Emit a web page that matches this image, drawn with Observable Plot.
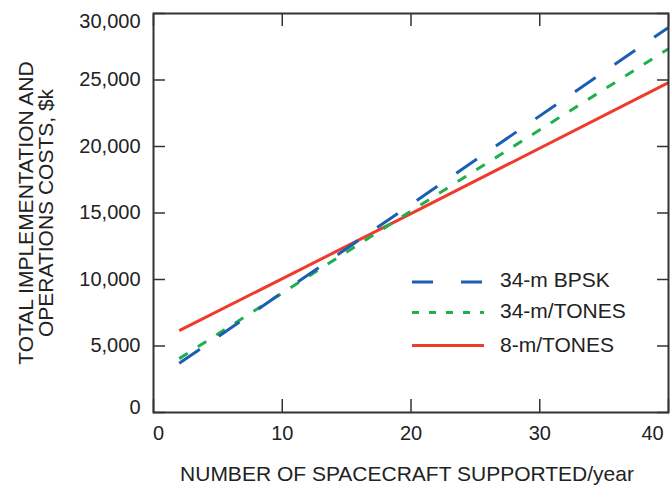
<!DOCTYPE html>
<html><head><meta charset="utf-8">
<script src="https://cdn.jsdelivr.net/npm/d3@7"></script>
<script src="https://cdn.jsdelivr.net/npm/@observablehq/plot@0.6"></script>
<style>
html,body{margin:0;padding:0;background:#fff;}
#chart{width:670px;height:487px;overflow:hidden;}
</style></head><body><div id="chart"></div>
<script>
// ---- data ----
const spacecraft = [2, 20, 40];
const bpsk34  = [3700, 15650, 28950];
const tones34 = [4050, 15150, 27350];
const tones8  = [6150, 14950, 24800];
const seriesNames = ["34-m BPSK", "34-m/TONES", "8-m/TONES"];
const xTicks = [0, 10, 20, 30, 40];
const yTicks = [0, 5000, 10000, 15000, 20000, 25000, 30000];
const xLabel = "NUMBER OF SPACECRAFT SUPPORTED/year";
const yLabel = "TOTAL IMPLEMENTATION AND\nOPERATIONS COSTS, $k";

// ---- styles ----
const seriesColors = ["#1a5fb4", "#1fb04c", "#ee3b2b"];
const plotDash = ["25,23", "10,12", null];
const legendDash = ["21,28", "7,10", null];
const ink = "#333";
const font = "'Liberation Sans', Arial, Helvetica, sans-serif";

const seriesValues = [bpsk34, tones34, tones8];
const rows = seriesNames.map((name, s) =>
  spacecraft.map((x, i) => ({name, x, y: seriesValues[s][i]})));

const lineMarks = [2, 1, 0].map(s => Plot.line(rows[s], {
  x: "x", y: "y", stroke: seriesColors[s], strokeWidth: 3,
  strokeDasharray: plotDash[s] ?? undefined, strokeLinecap: "butt"
}));

const firstX = xTicks[0], lastX = xTicks[xTicks.length - 1];
const firstY = yTicks[0], lastY = yTicks[yTicks.length - 1];
const fmt = d3.format(",");
const yLab = (ticks, dy) => Plot.axisY({ticks, anchor: "left", tickSize: 0, tickPadding: 13, tickFormat: fmt, fontSize: 20, label: null, dy});
const xLab = (ticks, dx) => Plot.axisX({ticks, anchor: "bottom", tickSize: 0, tickPadding: 13, fontSize: 20, label: null, dx});

const chart = Plot.plot({
  width: 670, height: 487,
  marginLeft: 153, marginRight: 2, marginTop: 13, marginBottom: 75,
  style: {fontFamily: font, fontSize: "20px", color: "#222", background: "#fff"},
  x: {domain: [0, 40]},
  y: {domain: [0, 30000]},
  marks: [
    yLab(yTicks.filter(t => t !== firstY && t !== lastY), 0),
    yLab([firstY], -5),
    yLab([lastY], 8),
    Plot.axisY({ticks: yTicks, anchor: "left", tickSize: -12, tickFormat: () => "", label: null, stroke: ink, strokeWidth: 1.5}),
    Plot.axisY({ticks: yTicks, anchor: "right", tickSize: -12, tickFormat: () => "", label: null, stroke: ink, strokeWidth: 1.5}),
    xLab(xTicks.filter(t => t !== firstX && t !== lastX), 0),
    xLab([firstX], 5),
    xLab([lastX], -16),
    Plot.axisX({ticks: xTicks, anchor: "bottom", tickSize: -13, tickFormat: () => "", label: null, stroke: ink, strokeWidth: 1.5}),
    Plot.axisX({ticks: xTicks, anchor: "top", tickSize: -12, tickFormat: () => "", label: null, stroke: ink, strokeWidth: 1.5}),
    ...lineMarks,
    Plot.frame({stroke: ink, strokeWidth: 2}),
    Plot.text([xLabel], {text: d => d, frameAnchor: "bottom", textAnchor: "middle", lineAnchor: "middle", dy: 62, dx: -4, fontSize: 21, fill: "#222"}),
    Plot.text([yLabel], {text: d => d, frameAnchor: "left", textAnchor: "middle", lineAnchor: "middle", rotate: -90, dx: -117, fontSize: 21, lineHeight: 0.98, fill: "#222"})
  ]
});
document.getElementById("chart").appendChild(chart);

// ---- legend (inside the plot area) ----
const legendLayout = {x1: 412, x2: 484, textX: 500, lineY: [282, 312.5, 345.5], baseY: [286.5, 318, 351.5]};
const svg = d3.select(chart);
const lg = svg.append("g").attr("class", "legend");
seriesNames.forEach((name, s) => {
  lg.append("line")
    .attr("x1", legendLayout.x1).attr("x2", legendLayout.x2)
    .attr("y1", legendLayout.lineY[s]).attr("y2", legendLayout.lineY[s])
    .attr("stroke", seriesColors[s]).attr("stroke-width", 3)
    .attr("stroke-dasharray", legendDash[s]);
  lg.append("text")
    .attr("x", legendLayout.textX).attr("y", legendLayout.baseY[s])
    .attr("text-anchor", "start")
    .attr("font-size", 21).attr("font-family", font).attr("fill", "#222")
    .text(name);
});
</script></body></html>
